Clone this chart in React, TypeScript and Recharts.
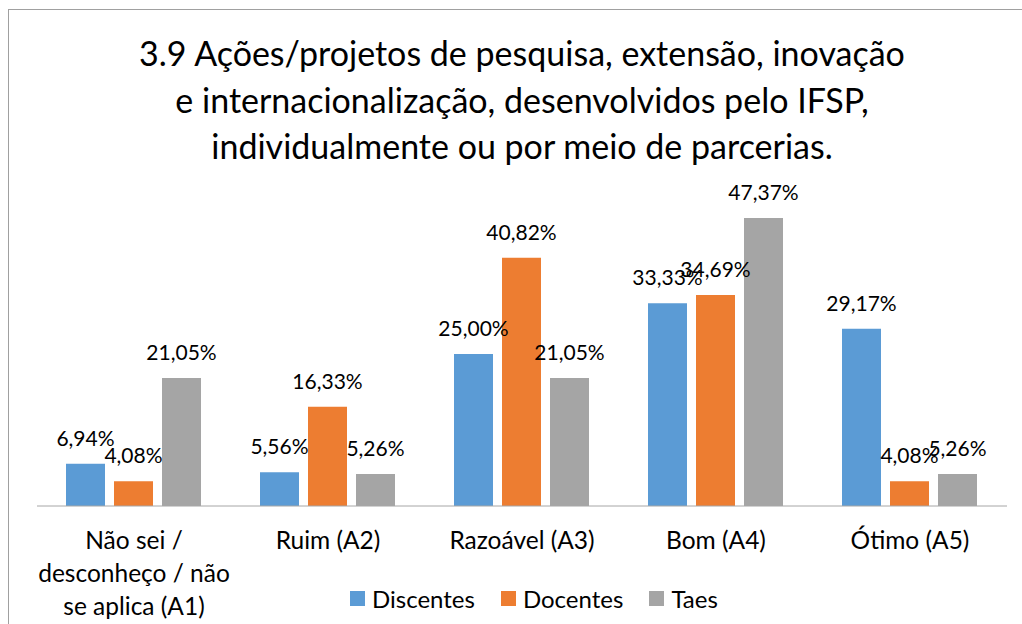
import { BarChart, Bar, XAxis, YAxis, LabelList } from 'recharts'

const categories = [
  'Não sei / desconheço / não se aplica (A1)',
  'Ruim (A2)',
  'Razoável (A3)',
  'Bom (A4)',
  'Ótimo (A5)',
]
const discentes = [6.94, 5.56, 25.0, 33.33, 29.17]
const docentes = [4.08, 16.33, 40.82, 34.69, 4.08]
const taes = [21.05, 5.26, 21.05, 47.37, 5.26]

const titleLines = [
  '3.9 Ações/projetos de pesquisa, extensão, inovação',
  'e internacionalização, desenvolvidos pelo IFSP,',
  'individualmente ou por meio de parcerias.',
]

const SERIES = [
  { key: 'discentes', label: 'Discentes', color: '#5B9BD5' },
  { key: 'docentes', label: 'Docentes', color: '#ED7D31' },
  { key: 'taes', label: 'Taes', color: '#A5A5A5' },
] as const

const data = categories.map((name, i) => ({
  name,
  discentes: discentes[i],
  docentes: docentes[i],
  taes: taes[i],
}))

const FONT = 'Lato, "Open Sans", sans-serif'

// quebra simples por palavras, como o Excel faz no rótulo do eixo
function wrap(text: string, max = 17) {
  const lines: string[] = []
  let cur = ''
  for (const w of text.split(' ')) {
    const next = cur ? cur + ' ' + w : w
    if (next.length > max && cur) {
      lines.push(cur)
      cur = w
    } else cur = next
  }
  if (cur) lines.push(cur)
  return lines
}

function CategoryTick({ x, y, payload }: any) {
  const lines = wrap(payload.value)
  return (
    <text x={x} y={y + 35} textAnchor="middle" fontSize={24.5} fill="#000" fontFamily={FONT}>
      {lines.map((l, i) => (
        <tspan key={i} x={x} dy={i === 0 ? 0 : 33}>
          {l}
        </tspan>
      ))}
    </text>
  )
}

function ValueLabel({ x, y, width, value }: any) {
  return (
    <text x={x + width / 2} y={y - 18} textAnchor="middle" fontSize={21} fill="#000" fontFamily={FONT}>
      {Number(value).toFixed(2).replace('.', ',')}%
    </text>
  )
}

export default function App() {
  return (
    <div style={{ position: 'absolute', left: 0, top: 0, width: 1022, height: 624, overflow: 'hidden', background: '#fff', fontFamily: FONT }}>
      <div
        style={{
          position: 'absolute',
          left: 8,
          top: 9,
          width: 1028,
          height: 640,
          border: '1px solid #a0a0a0',
          boxSizing: 'border-box',
        }}
      />
      <div style={{ position: 'absolute', left: 22, width: 1000, top: 30, textAlign: 'center', fontSize: 34, lineHeight: '46.5px', color: '#000' }}>
        {titleLines.map((l) => (
          <div key={l}>{l}</div>
        ))}
      </div>

      <div style={{ position: 'absolute', left: 0, top: 0 }}>
        <BarChart
          width={1022}
          height={624}
          data={data}
          margin={{ top: 202, right: 15, left: 37, bottom: 0 }}
          barCategoryGap={29}
          barGap={9}
        >
          <XAxis
            dataKey="name"
            height={118}
            interval={0}
            tickLine={false}
            axisLine={{ stroke: '#a6a6a6', strokeWidth: 1 }}
            tick={<CategoryTick />}
          />
          <YAxis hide domain={[0, 50]} />
          {SERIES.map((s) => (
            <Bar key={s.key} dataKey={s.key} fill={s.color} isAnimationActive={false}>
              <LabelList dataKey={s.key} content={<ValueLabel />} />
            </Bar>
          ))}
        </BarChart>
      </div>

      <div style={{ position: 'absolute', top: 584, left: 350, display: 'flex', alignItems: 'center', fontSize: 24, color: '#000' }}>
        {SERIES.map((s, i) => (
          <span key={s.key} style={{ display: 'flex', alignItems: 'center', marginLeft: i === 0 ? 0 : 26 }}>
            <span style={{ display: 'inline-block', width: 15, height: 15, background: s.color, marginRight: 7 }} />
            {s.label}
          </span>
        ))}
      </div>
    </div>
  )
}
